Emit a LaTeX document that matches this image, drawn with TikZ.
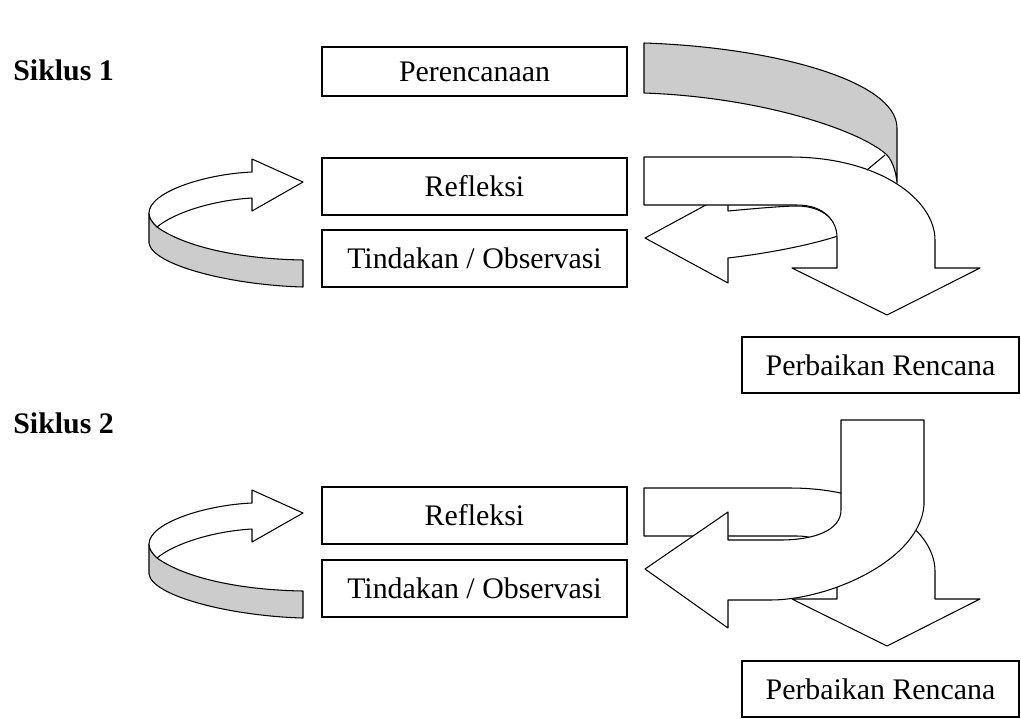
\documentclass[tikz,border=0pt]{standalone}
\usepackage{fontspec}
\setmainfont{Liberation Serif}

\begin{document}
\begin{tikzpicture}[x=0.02cm,y=-0.02cm]
          \tikzset{
            stage/.style = {draw, line width=.8pt,
              minimum width=6.1cm, minimum height=1.14cm,
              inner sep=0pt, font=\fontsize{17}{20}\selectfont},
            fixbox/.style = {stage, minimum width=5.54cm, minimum height=1.12cm},
            band/.style = {draw, line width=.6pt, line join=round, fill=white},
            shade/.style = {band, fill=black!20},
            cyclabel/.style = {inner sep=0pt, anchor=base west,
              font=\fontsize{17}{20}\selectfont\bfseries}}
          \useasboundingbox (0,0) rectangle (1021,718);
          %% cycle titles
          \node[cyclabel] (cyc1) at (13,80) {Siklus 1};
          \node[cyclabel] (cyc2) at (13,433) {Siklus 2};
          %% boxes
          \node[stage, minimum height=.98cm] (plan) at (474.5,71.5) {Perencanaan};
          \node[stage] (refl1) at (474.5,186.5) {Refleksi};
          \node[stage] (act1) at (474.5,258.5) {Tindakan / Observasi};
          \node[fixbox] (fix1) at (880.5,365) {Perbaikan Rencana};
          \node[stage] (refl2) at (474.5,515.5) {Refleksi};
          \node[stage] (act2) at (474.5,588.5) {Tindakan / Observasi};
          \node[fixbox] (fix2) at (880.5,689) {Perbaikan Rencana};
          %% loop arrows on the left
          \foreach \dy in {0,331}{
            \begin{scope}[shift={(0,\dy)}]
              \draw[shade] (149,213) -- (149,243)
                .. controls (152,265) and (230,285) .. (303,287) -- (303,260)
                .. controls (240,259) and (185,247) .. (157,227)
                .. controls (152,222) and (149,218) .. (149,213) -- cycle;
              \draw[band] (303,182) -- (252,159) -- (252,172)
                .. controls (205,174) and (149,192) .. (149,213)
                .. controls (149,218) and (152,222) .. (157,227)
                .. controls (175,212) and (215,200) .. (252,198)
                -- (252,211) -- cycle;
            \end{scope}}
          %% siklus 1, right side
          \draw[band] (645,238) -- (728,193) -- (728,211)
            .. controls (760,208) and (785,206) .. (797,206)
            .. controls (824,206) and (838,222) .. (838,236)
            .. controls (810,245) and (770,253) .. (728,258)
            -- (728,283) -- cycle;
          \draw[shade] (644,43) .. controls (770,47) and (897,80) .. (897,128)
            -- (897,183) .. controls (896,172) and (893,162) .. (887,155)
            .. controls (860,130) and (760,97) .. (644,93) -- cycle;
          \foreach \dy in {0,331}{
            \begin{scope}[shift={(0,\dy)}]
              \draw[band] (644,157) -- (790,157)
                .. controls (880,157) and (935,200) .. (935,240) -- (935,268)
                -- (980,268) -- (887,315) -- (792,268) -- (837,268) -- (837,237)
                .. controls (837,222) and (825,205) .. (797,205) -- (644,205) -- cycle;
            \end{scope}}
          \draw[band] (885,155) -- (867,170);
          %% siklus 2, right side
          \draw[band] (924,420) -- (924,505)
            .. controls (920,560) and (830,600) .. (770,600) -- (728,600)
            -- (728,628) -- (645,569) -- (728,512) -- (728,540) -- (780,540)
            .. controls (815,540) and (841,530) .. (841,510) -- (841,420) -- cycle;
\end{tikzpicture}
\end{document}
